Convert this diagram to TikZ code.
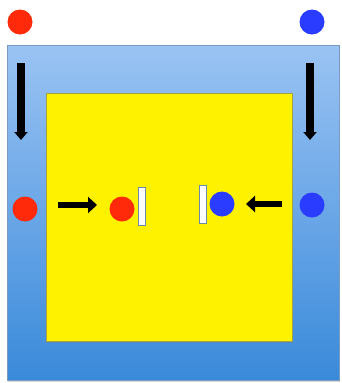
\documentclass[tikz,border=0pt]{standalone}
\usetikzlibrary{arrows.meta,shadows}
\definecolor{boxtop}{HTML}{9AC3F3}
\definecolor{boxbottom}{HTML}{3A8ADA}
\definecolor{dotred}{HTML}{FF2A0A}
\definecolor{dotblue}{HTML}{2A3CFF}
\begin{document}
\begin{tikzpicture}
[x=1pt,y=-1pt,
  outerbox/.style={top color=boxtop,bottom color=boxbottom,draw=boxtop!80!black,
    very thin,drop shadow={shadow xshift=1pt,shadow yshift=-1.5pt,opacity=0.3}},%
  innerbox/.style={fill=yellow,draw=yellow!60!black,very thin,
    drop shadow={shadow xshift=1pt,shadow yshift=-1.5pt,opacity=0.3}},%
  dotdecorate/.style={shape=circle,inner sep=0pt,minimum size=25pt},%
  bardecorate/.style={shape=rectangle,inner sep=0pt,minimum width=7pt,
    minimum height=38pt,fill=white,draw=boxtop!70!black,thin},%
  movedecorate/.style={-{Triangle[width=16pt,length=9pt]},line width=6.5pt},%
  falldecorate/.style={-{Triangle[width=13pt,length=8pt]},line width=8pt}]
\useasboundingbox (0,0) rectangle (341,383);
%% boxes
\path[outerbox] (7,45) rectangle (339,380);
\path[innerbox] (46,93) rectangle (292,341);
%% dots
\foreach \nodename/\x/\y/\c in {rtop/20/22/dotred, btop/312/22/dotblue,
  rout/25/209/dotred, rin/122/209/dotred,
  bin/222/204/dotblue, bout/312/205/dotblue} {
  \node (\nodename) at (\x,\y) [dotdecorate,fill=\c] {};
}
%% walls
\node (rwall) at (141.5,206) [bardecorate] {};
\node (bwall) at (202.5,204) [bardecorate] {};
%% arrow ends
\foreach \nodename/\x/\y in {fla/21/63, flb/21/140, fra/310/63, frb/310/140,
  mla/58/205, mlb/97/205, mra/282/204, mrb/246/204} {
  \coordinate (\nodename) at (\x,\y);
}
%% arrows
\draw[falldecorate] (fla) -- (flb);
\draw[falldecorate] (fra) -- (frb);
\draw[movedecorate] (mla) -- (mlb);
\draw[movedecorate] (mra) -- (mrb);
\end{tikzpicture}
\end{document}
